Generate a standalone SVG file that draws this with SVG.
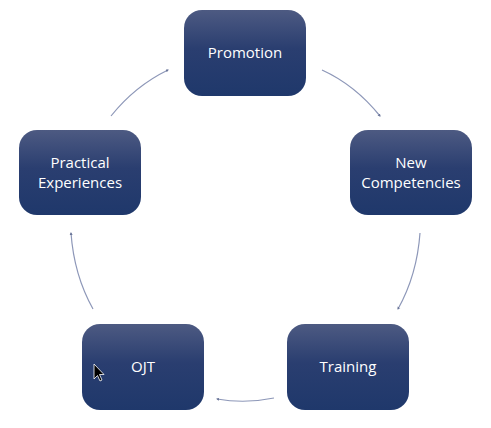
<svg xmlns="http://www.w3.org/2000/svg" width="491" height="428" viewBox="0 0 491 428">
<defs>
<linearGradient id="g" x1="0" y1="0" x2="0" y2="1">
<stop offset="0" stop-color="#4d5a82"/>
<stop offset="0.45" stop-color="#2a3e70"/>
<stop offset="1" stop-color="#1f386b"/>
</linearGradient>
<marker id="arr" markerWidth="4" markerHeight="4" refX="2" refY="2" orient="auto" markerUnits="userSpaceOnUse">
<path d="M0,0.5 L3,2 L0,3.5 Z" fill="#6b7699"/>
</marker>
<style>
.box{fill:url(#g);}
.lbl{fill:#ffffff;font-family:"Open Sans","DejaVu Sans",sans-serif;font-size:15px;text-anchor:middle;}
.con{fill:none;stroke:#8d97b8;stroke-width:1.2;marker-end:url(#arr);}
</style>
</defs>
<rect width="491" height="428" fill="#ffffff"/>
<g id="connectors">
<path class="con" d="M322,70 Q355,85 380,116"/>
<path class="con" d="M420,233 Q417,275 398,309"/>
<path class="con" d="M274,398 Q245,404 217,399"/>
<path class="con" d="M93,309 Q74,275 71,233"/>
<path class="con" d="M111,116 Q135,86 168,70"/>
</g>
<g id="promotion">
<rect class="box" x="184" y="10" width="122" height="86" rx="18"/>
<text class="lbl" x="245" y="58">Promotion</text>
</g>
<g id="new-competencies">
<rect class="box" x="350" y="130" width="122" height="85" rx="18"/>
<text class="lbl" x="411" y="168">New</text>
<text class="lbl" x="411" y="188">Competencies</text>
</g>
<g id="training">
<rect class="box" x="287" y="324" width="122" height="86" rx="18"/>
<text class="lbl" x="348" y="372">Training</text>
</g>
<g id="ojt">
<rect class="box" x="82" y="324" width="122" height="86" rx="18"/>
<text class="lbl" x="143" y="372">OJT</text>
</g>
<g id="practical-experiences">
<rect class="box" x="19" y="130" width="122" height="85" rx="18"/>
<text class="lbl" x="80" y="168">Practical</text>
<text class="lbl" x="80" y="188">Experiences</text>
</g>
<g id="cursor">
<path d="M94,364 L94,379 L97.5,375.5 L100,381 L102,380 L99.5,374.5 L104,374.5 Z" fill="#000000" stroke="#ffffff" stroke-width="0.8"/>
</g>
</svg>
